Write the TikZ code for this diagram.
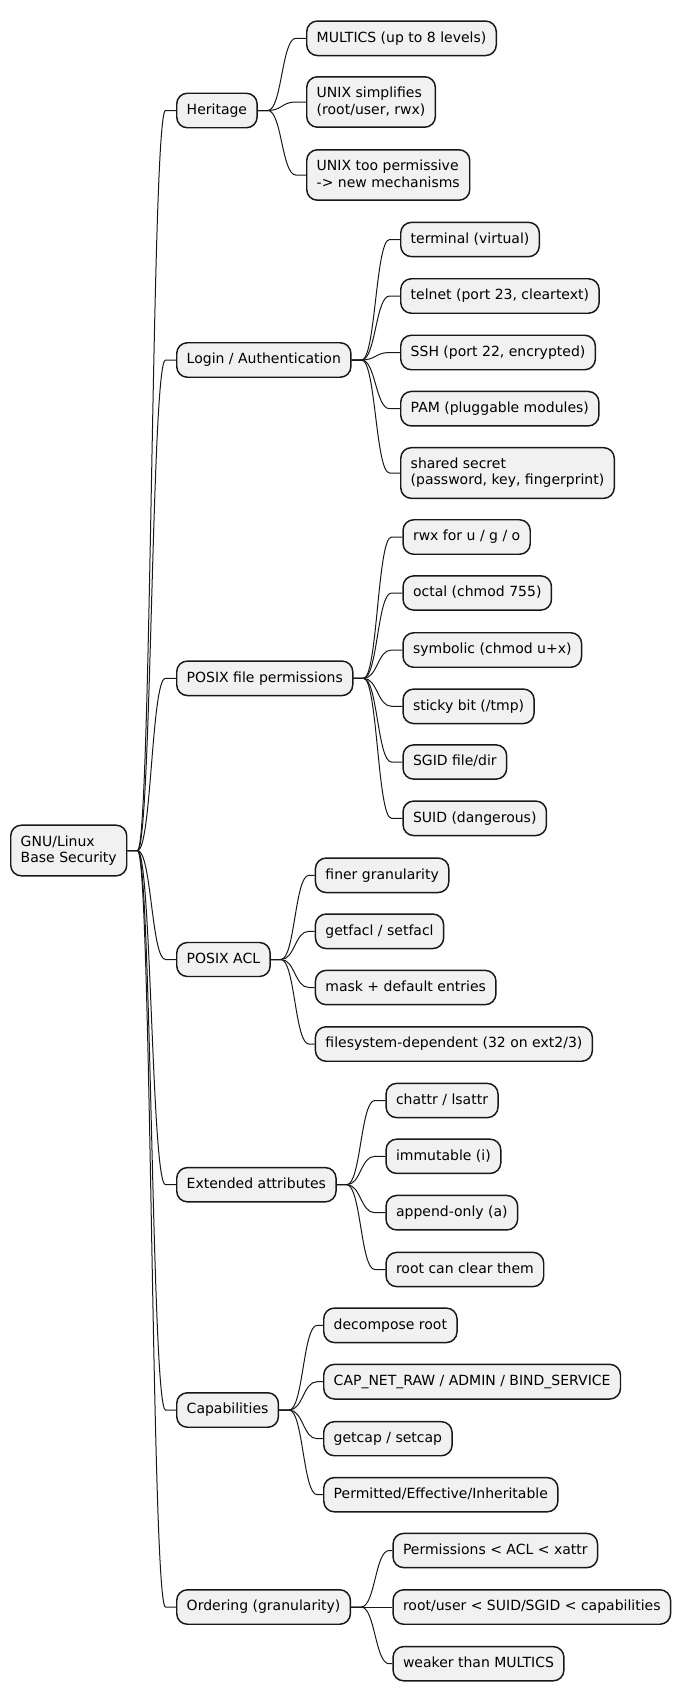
\documentclass[tikz,border=0pt]{standalone}
\usepackage{fontspec}
\setmainfont{DejaVu Sans}
\usetikzlibrary{calc}
\definecolor{boxfill}{HTML}{F1F1F1}
\definecolor{boxline}{HTML}{181818}
\newcommand{\ls}{\rule[-2pt]{0pt}{9.5pt}}
\tikzset{idea/.style={draw=boxline, fill=boxfill, line width=1.1pt, rounded corners=8pt,
anchor=west, align=left, inner xsep=7.5pt, inner ysep=7.85pt,
font=\fontsize{10.5pt}{12.15pt}\selectfont, execute at begin node=\ls},
branch/.style={draw=boxline, line width=0.75pt,
to path={ let \p1=(\tikztostart.east),\p2=(\tikztotarget.west) in
(\p1) -- (\x1+7.5pt,\y1) .. controls (\x1+18pt,\y1) and (\x1+18pt,\y2) ..
(\x1+28.5pt,\y2) -- (\p2)}}}

\begin{document}
\begin{tikzpicture}[x=0.75pt, y=-0.75pt]
        \useasboundingbox (0,0) rectangle (688,1702);
        \node[idea] (root) at (10, 850.5) {GNU/Linux\\\ls Base Security};

        \node[idea] (herit) at (176, 110.5) {Heritage};
        \node[idea] (login) at (176, 360) {Login / Authentication};
        \node[idea] (perm) at (176, 678.3) {POSIX file permissions};
        \node[idea] (acl) at (176, 959.5) {POSIX ACL};
        \node[idea] (xattr) at (176, 1184.7) {Extended attributes};
        \node[idea] (caps) at (176, 1410) {Capabilities};
        \node[idea] (order) at (176, 1607) {Ordering (granularity)};

        \node[idea] (multics) at (306, 38.3) {MULTICS (up to 8 levels)};
        \node[idea] (unixsimp) at (306, 102) {UNIX simplifies\\\ls(root/user, rwx)};
        \node[idea] (unixperm) at (306, 175) {UNIX too permissive\\\ls-> new mechanisms};

        \node[idea] (term) at (400, 239.5) {terminal (virtual)};
        \node[idea] (telnet) at (400, 296) {telnet (port 23, cleartext)};
        \node[idea] (ssh) at (400, 352.5) {SSH (port 22, encrypted)};
        \node[idea] (pam) at (400, 408.7) {PAM (pluggable modules)};
        \node[idea] (secret) at (400, 473) {shared secret\\\ls(password, key, fingerprint)};

        \node[idea] (rwx) at (402.3, 537) {rwx for u / g / o};
        \node[idea] (octal) at (402.3, 593) {octal (chmod 755)};
        \node[idea] (symb) at (402.3, 650) {symbolic (chmod u+x)};
        \node[idea] (sticky) at (402.3, 706.3) {sticky bit (/tmp)};
        \node[idea] (sgid) at (402.3, 762) {SGID file/dir};
        \node[idea] (suid) at (402.3, 818.3) {SUID (dangerous)};

        \node[idea] (finer) at (314.7, 875.3) {finer granularity};
        \node[idea] (getfacl) at (314.7, 931.3) {getfacl / setfacl};
        \node[idea] (mask) at (314.7, 987.5) {mask + default entries};
        \node[idea] (fsdep) at (314.7, 1044) {filesystem-dependent (32 on ext2/3)};

        \node[idea] (chattr) at (385.3, 1100.5) {chattr / lsattr};
        \node[idea] (immut) at (385.3, 1156.3) {immutable (i)};
        \node[idea] (append) at (385.3, 1212.7) {append-only (a)};
        \node[idea] (rootclr) at (385.3, 1269.5) {root can clear them};

        \node[idea] (decomp) at (323, 1325.3) {decompose root};
        \node[idea] (capnet) at (323, 1381.7) {CAP\_NET\_RAW / ADMIN / BIND\_SERVICE};
        \node[idea] (getcap) at (323, 1438.7) {getcap / setcap};
        \node[idea] (pei) at (323, 1494.7) {Permitted/Effective/Inheritable};

        \node[idea] (permacl) at (392.3, 1550.5) {Permissions < ACL < xattr};
        \node[idea] (rootuser) at (392.3, 1607) {root/user < SUID/SGID < capabilities};
        \node[idea] (weaker) at (392.3, 1663.7) {weaker than MULTICS};

        \draw (root) edge[branch] (herit)
              (root) edge[branch] (login)
              (root) edge[branch] (perm)
              (root) edge[branch] (acl)
              (root) edge[branch] (xattr)
              (root) edge[branch] (caps)
              (root) edge[branch] (order)

              (herit) edge[branch] (multics)
              (herit) edge[branch] (unixsimp)
              (herit) edge[branch] (unixperm)

              (login) edge[branch] (term)
              (login) edge[branch] (telnet)
              (login) edge[branch] (ssh)
              (login) edge[branch] (pam)
              (login) edge[branch] (secret)

              (perm) edge[branch] (rwx)
              (perm) edge[branch] (octal)
              (perm) edge[branch] (symb)
              (perm) edge[branch] (sticky)
              (perm) edge[branch] (sgid)
              (perm) edge[branch] (suid)

              (acl) edge[branch] (finer)
              (acl) edge[branch] (getfacl)
              (acl) edge[branch] (mask)
              (acl) edge[branch] (fsdep)

              (xattr) edge[branch] (chattr)
              (xattr) edge[branch] (immut)
              (xattr) edge[branch] (append)
              (xattr) edge[branch] (rootclr)

              (caps) edge[branch] (decomp)
              (caps) edge[branch] (capnet)
              (caps) edge[branch] (getcap)
              (caps) edge[branch] (pei)

              (order) edge[branch] (permacl)
              (order) edge[branch] (rootuser)
              (order) edge[branch] (weaker);
    \end{tikzpicture}
\end{document}
